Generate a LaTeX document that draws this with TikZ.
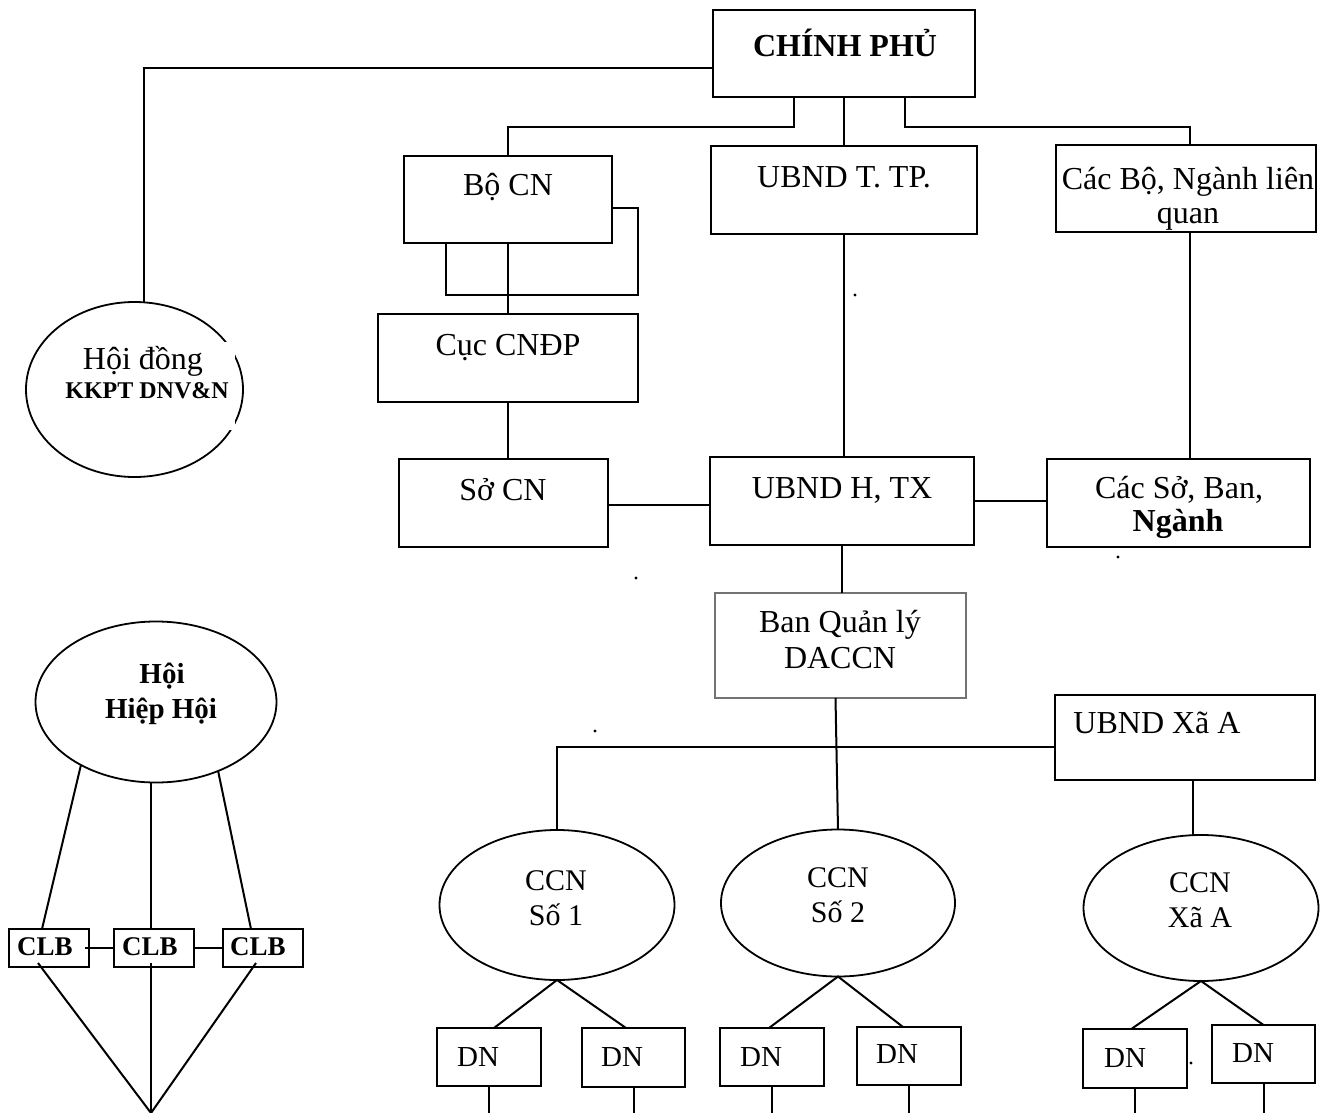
\documentclass[tikz,border=0pt]{standalone}
\usepackage{fontspec}
\setmainfont{Liberation Serif}
\usetikzlibrary{shapes.geometric}
\begin{document}
\begin{tikzpicture}[
  x=0.5pt, y=-0.5pt,
  every node/.style={inner sep=0pt, outer sep=0pt},
  wire/.style={line width=1pt},
  box/.style 2 args={draw, line width=1pt, rectangle,
    minimum width=#1*0.5pt, minimum height=#2*0.5pt},
  thinbox/.style 2 args={draw=black!55, line width=0.6pt, rectangle,
    minimum width=#1*0.5pt, minimum height=#2*0.5pt},
  oval/.style 2 args={draw, line width=0.9pt, ellipse,
    minimum width=#1*0.5pt, minimum height=#2*0.5pt},
  lbl/.style={font=\fontsize{16}{19}\selectfont, anchor=base},
  lblb/.style={font=\fontsize{16}{19}\selectfont\bfseries, anchor=base},
  small/.style={font=\fontsize{12}{14}\selectfont\bfseries, anchor=base},
  assoc/.style={font=\fontsize{14.5}{17}\selectfont\bfseries, anchor=base},
  club/.style={font=\fontsize{13.5}{16}\selectfont\bfseries, anchor=base},
  ccnt/.style={font=\fontsize{15}{18}\selectfont, anchor=base},
  dnt/.style={font=\fontsize{14.5}{17}\selectfont, anchor=base},
  speck/.style={fill=black},
]
\useasboundingbox (0,0) rectangle (1323,1113);
\fill[white] (0,0) rectangle (1323,1113);

% ---------- boxes of the administrative chain ----------
\node[box={262}{87}] (cp)   at (844,53.5)   {};
\node[box={208}{87}] (bocn) at (508,199.5)  {};
\node[box={266}{88}] (uty)  at (844,190)    {};
\node[box={260}{87}] (cbo)  at (1186,188.5) {};
\node[box={260}{88}] (cuc)  at (508,358)    {};
\node[box={209}{88}] (socn) at (503.5,503)  {};
\node[box={264}{88}] (uhx)  at (842,501)    {};
\node[box={263}{88}] (cso)  at (1178.5,503) {};
\node[thinbox={251}{105}] (bql) at (840.5,645.5) {};
\node[box={260}{85}] (uxa)  at (1185,737.5) {};

\node[lblb] (cp-t)   at (845,57)   {CHÍNH PHỦ};
\node[lbl]  (bocn-t) at (508,195)  {Bộ CN};
\node[lbl]  (uty-t)  at (844,188)  {UBND T. TP.};
\node[lbl]  (cbo-t1) at (1188,190) {Các Bộ, Ngành liên};
\node[lbl]  (cbo-t2) at (1188,223) {quan};
\node[lbl]  (cuc-t)  at (508,355)  {Cục CNĐP};
\node[lbl]  (socn-t) at (503,500)  {Sở CN};
\node[lbl]  (uhx-t)  at (842,498)  {UBND H, TX};
\node[lbl]  (cso-t1) at (1179,498) {Các Sở, Ban,};
\node[lblb] (cso-t2) at (1178,531) {Ngành};
\node[lbl]  (bql-t1) at (840,632)  {Ban Quản lý};
\node[lbl]  (bql-t2) at (840,668)  {DACCN};
\node[lbl]  (uxa-t)  at (1157,733) {UBND Xã A};

% ---------- council ellipse (its right rim is cut by the text field) ----------
\node[oval={217}{175}] (hd) at (134.5,389.5) {};
\fill[white] (60,342) rectangle (234.5,430);
\node[lbl]   (hd-t1) at (143,369) {Hội đồng};
\node[small] (hd-t2) at (147,398) {KKPT DNV\&N};

% ---------- industrial clusters ----------
\node[oval={235}{150}] (ccn1) at (557,905)  {};
\node[oval={234}{147}] (ccn2) at (838,903)  {};
\node[oval={235}{146}] (ccn3) at (1201,908) {};
\node[ccnt] (ccn1-t1) at (556,890)  {CCN};
\node[ccnt] (ccn1-t2) at (556,925)  {Số 1};
\node[ccnt] (ccn2-t1) at (838,887)  {CCN};
\node[ccnt] (ccn2-t2) at (838,922)  {Số 2};
\node[ccnt] (ccn3-t1) at (1200,892) {CCN};
\node[ccnt] (ccn3-t2) at (1200,927) {Xã A};

% ---------- enterprises ----------
\node[box={104}{58}] (dn1) at (489,1057)    {};
\node[box={103}{59}] (dn2) at (633.5,1057.5) {};
\node[box={104}{58}] (dn3) at (772,1057)    {};
\node[box={104}{58}] (dn4) at (909,1056)    {};
\node[box={104}{59}] (dn5) at (1135,1058)   {};
\node[box={103}{58}] (dn6) at (1263.5,1054) {};
\node[dnt] (dn1-t) at (478,1066)  {DN};
\node[dnt] (dn2-t) at (622,1066)  {DN};
\node[dnt] (dn3-t) at (761,1066)  {DN};
\node[dnt] (dn4-t) at (897,1063)  {DN};
\node[dnt] (dn5-t) at (1125,1067) {DN};
\node[dnt] (dn6-t) at (1253,1062) {DN};

% ---------- associations and clubs ----------
\node[oval={241}{161}] (hh) at (156,702) {};
\node[assoc] (hh-t1) at (162,683) {Hội};
\node[assoc] (hh-t2) at (161,718) {Hiệp Hội};
\node[box={80}{38}] (clb1) at (49,948)  {};
\node[box={80}{38}] (clb2) at (154,948) {};
\node[box={80}{38}] (clb3) at (263,948) {};
\node[club] (clb1-t) at (45,955)  {CLB};
\node[club] (clb2-t) at (150,955) {CLB};
\node[club] (clb3-t) at (258,955) {CLB};

% ---------- free ends ----------
\coordinate (bot)   at (0,1113);
\coordinate (apex)  at (151,1113);
\coordinate (loopc) at (638,295);

% ---------- connectors ----------
\draw[wire] ([yshift=-7.25pt]cp.west) -| ([xshift=4.75pt]hd.north);
\draw[wire] ([xshift=-25pt]cp.south) -- ++(0,30) -| (bocn.north);
\draw[wire] (cp.south) -- (cp.south |- uty.north);
\draw[wire] ([xshift=30.5pt]cp.south) -- ++(0,30) -| ([xshift=2pt]cbo.north);

\draw[wire] ([yshift=-4.25pt]bocn.east) -| (loopc) -| ([xshift=-31pt]bocn.south);
\draw[wire] (bocn.south) -- (cuc.north);
\draw[wire] (cuc.south) -- (cuc.south |- socn.north);
\draw[wire] ([yshift=-1pt]socn.east) -- ([yshift=-1pt]socn.east -| uhx.west);
\draw[wire] (uty.south) -- (uty.south |- uhx.north);
\draw[wire] ([xshift=2pt]cbo.south) -- ([xshift=2pt]cbo.south |- cso.north);
\draw[wire] (uhx.east) -- (uhx.east -| cso.west);
\draw[wire] (uhx.south) -- (uhx.south |- bql.north);
\draw[wire] ([xshift=-2.5pt]bql.south) -- (ccn2.north);
\draw[wire] (ccn1.north) |- ([yshift=-4.75pt]uxa.west);
\draw[wire] ([xshift=4pt]uxa.south) -- ([xshift=4pt]uxa.south |- ccn3.north);

\draw[wire] ([xshift=2.5pt]dn1.north) -- (ccn1.south) -- ([xshift=-3.75pt]dn2.north);
\draw[wire] ([xshift=-1.5pt]dn3.north) -- (ccn2.south) -- ([xshift=-3pt]dn4.north);
\draw[wire] ([xshift=-1.5pt]dn5.north) -- (ccn3.south) -- (dn6.north);
\foreach \d in {dn1,dn2,dn3,dn4,dn5,dn6}
  \draw[wire] (\d.south) -- (\d.south |- bot);

\draw[wire] (hh.220) -- ([xshift=-3.5pt]clb1.north);
\draw[wire] ([xshift=-2.5pt]hh.south) -- ([xshift=-1.5pt]clb2.north);
\draw[wire] (hh.312) -- ([xshift=-6pt]clb3.north);
\draw[wire] ([xshift=-2pt]clb1.east) -- (clb2.west);
\draw[wire] (clb2.east) -- (clb3.west);
\draw[wire] ([xshift=-5.5pt,yshift=2pt]clb1.south) -- (apex);
\draw[wire] ([xshift=-1.5pt,yshift=2pt]clb2.south) -- (apex);
\draw[wire] ([xshift=-3.5pt,yshift=2pt]clb3.south) -- (apex);

% ---------- stray specks ----------
\foreach \p in {(855,295),(636,578),(1118,557),(595,731),(1191,1063)}
  \fill[speck] \p circle[radius=0.8pt];
\end{tikzpicture}
\end{document}
